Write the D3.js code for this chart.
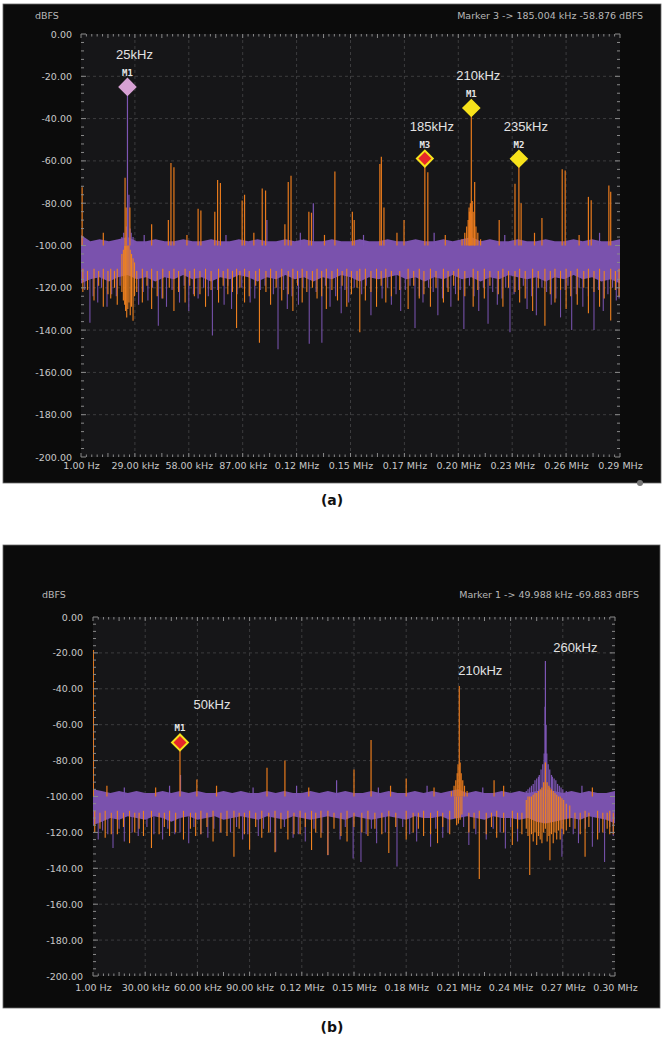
<!DOCTYPE html>
<html>
<head>
<meta charset="utf-8">
<script src="https://cdn.jsdelivr.net/npm/d3@7"></script>
<style>
  body { margin: 0; background: #fff; }
  svg { display: block; }
</style>
</head>
<body>
<svg id="chart" width="664" height="1040"></svg>
<script>
// ---- data ----
var dbTicks = [0, -20, -40, -60, -80, -100, -120, -140, -160, -180, -200];

// panel (a)
var aTicksKHz = [0, 29, 58, 87, 116, 145, 174, 203, 232, 261, 290];
var aTickLabels = ["1.00 Hz", "29.00 kHz", "58.00 kHz", "87.00 kHz", "0.12 MHz", "0.15 MHz",
                   "0.17 MHz", "0.20 MHz", "0.23 MHz", "0.26 MHz", "0.29 MHz"];
// noise band edges, one value every 5 kHz from 0 to 290 kHz
var aBandTop = [-95,-98,-97,-98,-97,-96,-98,-98,-97,-98,
                -98,-97,-98,-98,-97,-98,-98,-97,-98,-97,
                -98,-98,-97,-98,-97,-98,-98,-97,-98,-98,
                -97,-98,-98,-97,-98,-98,-97,-98,-98,-97,
                -98,-97,-96,-98,-97,-98,-98,-97,-98,-98,
                -97,-98,-98,-97,-98,-97,-98,-98,-97];
var aBandBot = [-118,-116,-115,-117,-115,-114,-116,-115,-117,-115,
                -116,-114,-116,-115,-117,-115,-116,-114,-115,-117,
                -115,-116,-114,-116,-115,-117,-115,-116,-114,-115,
                -117,-115,-116,-115,-114,-116,-115,-117,-115,-116,
                -114,-116,-115,-117,-115,-116,-114,-115,-116,-115,
                -117,-115,-116,-114,-116,-115,-117,-116,-118];
// [kHz, from dB, to dB]
var aOrangeTones = [[0.6,-100,-72.5],[23.7,-100,-68],[24.3,-100,-82],[26.3,-100,-82],[38,-100,-90],
  [47,-100,-88],[48.4,-100,-61],[50,-100,-63],[63,-100,-82.6],[64.5,-100,-83.5],[72,-100,-84],
  [73.5,-100,-69],[75,-100,-70.5],[86.7,-100,-78.7],[88,-100,-76],[97.5,-100,-73],[99.3,-100,-74],
  [109.7,-100,-90],[111.5,-100,-70],[113,-100,-67],[122.6,-100,-84],[124,-100,-84.5],[136.6,-100,-65],
  [146,-100,-84],[147,-100,-88],[160.8,-100,-61.5],[161.6,-100,-58],[163,-100,-82],[173.8,-100,-88],
  [185,-100,-58.9],[186.6,-100,-65.4],[208.8,-100,-82],[210,-100,-35],[211.8,-100,-70],[225,-100,-88],
  [233.5,-100,-70.8],[235.6,-100,-59],[236.8,-100,-80],[248,-100,-87],[258.9,-100,-64],[260.5,-100,-64.5],
  [273,-100,-77],[274.5,-100,-78.6],[284,-100,-71.6],[285,-100,-74.6],
  [205,-100,-97],[206.5,-100,-94],[207.5,-100,-91],[208.3,-100,-88],[209,-100,-84],[209.5,-100,-80],
  [210.5,-100,-79],[211,-100,-84],[211.7,-100,-88],[212.5,-100,-91],[213.5,-100,-94],[215,-100,-97],
  [12,-100,-94],[57,-100,-95],[93,-100,-94],[131,-100,-95],[170,-100,-94],[196,-100,-95],[244,-100,-94],[268,-100,-95]];
var aOrangeDown = [[22,-104,-122],[22.8,-102,-126],[23.5,-100,-128],[24,-100,-131],[24.6,-100,-134],
  [25.2,-100,-130],[25.8,-100,-127],[26.5,-102,-133],[27.2,-104,-129],[28,-106,-135.6],[28.8,-108,-124],
  [1,-111,-122],[7,-111,-126],[12,-111,-129],[16,-111,-125],[19.5,-111,-128],[33,-111,-127],[38,-111,-130],
  [44,-111,-125],[50,-111,-131],[56,-111,-127],[61,-111,-124],[67,-111,-129],[74,-111,-127],[79,-111,-123],
  [83.7,-111,-139],[88,-111,-127],[96,-111,-146],[102,-111,-128],[108,-111,-126],[114,-111,-131],
  [119,-111,-127],[127,-111,-125],[132,-111,-130],[138,-111,-126],[143,-111,-129],[150,-111,-141],
  [153,-111,-126],[159,-111,-129],[164,-111,-127],[176,-111,-130],[182,-111,-125],[188,-111,-129],
  [195,-111,-127],[203,-111,-126],[211,-111,-129],[217,-111,-125],[227,-111,-129],[236,-111,-127],
  [243,-111,-131],[249.6,-111,-138],[255,-111,-127],[261,-111,-130],[267,-111,-128],[273,-111,-132],
  [279,-111,-129],[285,-111,-135.5],[289.5,-111,-124],
  [3.5,-112,-121],[9.5,-112,-119],[14.5,-112,-123],[18,-112,-120],[30,-112,-122],[35.5,-112,-119],
  [41,-112,-124],[47.5,-112,-120],[52.5,-112,-122],[58.5,-112,-119],[64,-112,-123],[70,-112,-121],
  [76.5,-112,-119],[81.5,-112,-122],[85.5,-112,-120],[90.5,-112,-124],[94,-112,-119],[99.5,-112,-122],
  [105,-112,-120],[111.5,-112,-123],[116.5,-112,-119],[121.5,-112,-122],[124.5,-112,-120],[129.5,-112,-124],
  [135,-112,-121],[140.5,-112,-119],[145.5,-112,-123],[148.5,-112,-120],[156,-112,-122],[161.5,-112,-119],
  [167,-112,-124],[171.5,-112,-121],[179,-112,-119],[184.5,-112,-123],[191,-112,-120],[197.5,-112,-122],
  [200.5,-112,-119],[206.5,-112,-124],[213.5,-112,-121],[220,-112,-119],[224.5,-112,-123],[230,-112,-120],
  [233.5,-112,-122],[239,-112,-125],[246,-112,-120],[252.5,-112,-123],[258,-112,-121],[263.5,-112,-124],
  [270.5,-112,-120],[276,-112,-122],[281.5,-112,-125],[287.5,-112,-121]];
var aPurpleTones = [[25,-100,-25],[25.8,-100,-76],[24.4,-100,-91],[26.4,-100,-92],[23,-100,-94],
  [27,-100,-94],[22,-100,-96],[28,-100,-96],[100,-100,-88],[125,-100,-80],[210,-100,-85],
  [34,-100,-95],[78,-100,-95],[118,-100,-94],[152,-100,-95],[190,-100,-94],[228,-100,-95],[279,-100,-94]];
var aPurpleDown = [[4.8,-112,-136.5],[9,-112,-127],[14,-112,-129],[19,-112,-124],[31,-112,-128],
  [36,-112,-126],[41.6,-112,-138],[46,-112,-129],[53,-112,-127],[58,-112,-131],[63,-112,-125],
  [70.7,-112,-142.6],[77,-112,-128],[81,-112,-130],[91,-112,-127],[106,-112,-149],[111,-112,-130],
  [117,-112,-128],[122.8,-112,-146.5],[129.6,-112,-146],[134,-112,-129],[140,-112,-132],[144,-112,-127],
  [156,-112,-133],[167,-112,-128],[172,-112,-131],[179.7,-112,-139],[184,-112,-127],[192,-112,-133],
  [199,-112,-129],[206,-112,-139.5],[214,-112,-131],[219,-112,-137],[224,-112,-128],[230.8,-112,-141],
  [240,-112,-130],[245,-112,-133],[253,-112,-128],[258,-112,-134],[264,-112,-140],[270,-112,-129],
  [276,-112,-140],[281,-112,-131],[288,-112,-126],
  [2,-112,-121],[6.5,-112,-124],[11,-112,-120],[16.5,-112,-123],[21,-112,-119],[33.5,-112,-122],
  [38.5,-112,-120],[43.5,-112,-125],[49,-112,-121],[55.5,-112,-119],[60.5,-112,-123],[66,-112,-120],
  [68.5,-112,-124],[73.5,-112,-121],[79,-112,-119],[84,-112,-123],[86.5,-112,-120],[93.5,-112,-125],
  [96.5,-112,-121],[99,-112,-119],[103.5,-112,-123],[109,-112,-121],[113.5,-112,-124],[119.5,-112,-120],
  [126.5,-112,-122],[131.5,-112,-119],[137,-112,-124],[142,-112,-121],[147,-112,-120],[151,-112,-123],
  [153.5,-112,-119],[159,-112,-122],[162,-112,-125],[165,-112,-120],[169.5,-112,-123],[174.5,-112,-121],
  [177,-112,-119],[182,-112,-124],[187,-112,-120],[189.5,-112,-122],[194.5,-112,-125],[197,-112,-120],
  [201.5,-112,-123],[204,-112,-121],[209,-112,-119],[211.5,-112,-124],[216.5,-112,-120],[221.5,-112,-122],
  [226.5,-112,-125],[228.5,-112,-120],[233,-112,-123],[235.5,-112,-121],[238,-112,-119],[242.5,-112,-124],
  [248,-112,-120],[250.5,-112,-122],[255.5,-112,-125],[260.5,-112,-121],[262,-112,-119],[266.5,-112,-123],
  [268,-112,-120],[273,-112,-124],[278.5,-112,-121],[283.5,-112,-123],[286,-112,-120],[289.5,-112,-125]];
var aMarkers = [
  {name: "M1", kHz: 25, db: -25, label: "25kHz", fill: "#d7a1d4", stroke: "#d7a1d4"},
  {name: "M1", kHz: 210, db: -35, label: "210kHz", fill: "#f7e21b", stroke: "#f7e21b"},
  {name: "M3", kHz: 185, db: -58.9, label: "185kHz", fill: "#e8262b", stroke: "#f7e21b"},
  {name: "M2", kHz: 235.6, db: -59, label: "235kHz", fill: "#f7e21b", stroke: "#f7e21b"}];
var aReadout = "Marker 3 -> 185.004 kHz -58.876 dBFS";

// panel (b)
var bTicksKHz = [0, 30, 60, 90, 120, 150, 180, 210, 240, 270, 300];
var bTickLabels = ["1.00 Hz", "30.00 kHz", "60.00 kHz", "90.00 kHz", "0.12 MHz", "0.15 MHz",
                   "0.18 MHz", "0.21 MHz", "0.24 MHz", "0.27 MHz", "0.30 MHz"];
// one value every 5 kHz from 0 to 300 kHz
var bBandTop = [-96,-97,-98,-97,-98,-97,-98,-98,-97,-98,
                -97,-98,-97,-98,-98,-97,-98,-97,-98,-98,
                -97,-98,-97,-98,-98,-97,-98,-97,-98,-97,
                -98,-98,-97,-98,-97,-98,-98,-97,-98,-97,
                -98,-97,-96,-98,-97,-98,-98,-97,-98,-97,
                -98,-97,-96,-97,-98,-97,-98,-97,-98,-98,-97];
var bBandBot = [-116,-114,-112,-113,-111,-112,-113,-111,-112,-114,
                -112,-111,-113,-112,-111,-113,-112,-111,-112,-113,
                -111,-112,-113,-111,-112,-113,-112,-111,-112,-113,
                -111,-112,-113,-112,-111,-112,-113,-111,-112,-112,
                -111,-113,-112,-111,-112,-113,-111,-112,-112,-113,
                -112,-114,-115,-114,-113,-112,-113,-111,-112,-113,-115];
var bOrangeTones = [[0.2,-100,-18.4],[49.988,-100,-69.9],[59.7,-100,-90.5],[100,-100,-84],[110.3,-100,-80],
  [150,-100,-85],[159.8,-100,-68.5],[180,-100,-90],[210.5,-100,-38.5],[230.5,-100,-91],[260,-96,-81],
  [206,-100,-97],[207.5,-100,-94],[208.5,-100,-91],[209.3,-100,-87],[209.8,-100,-82],[211,-100,-81],
  [211.6,-100,-87],[212.5,-100,-91],[213.5,-100,-94],[215,-100,-97],
  [8,-100,-94],[36,-100,-95],[71,-100,-94],[124,-100,-95],[171,-100,-94],[196,-100,-95],[236,-100,-94],[287,-100,-95]];
var bOrangeDown = [[249,-102,-118],[250,-100,-122],[251,-100,-143.7],[252,-100,-121],[253,-99,-125],
  [254,-98,-120],[255,-98,-127],[256,-97,-122],[257,-96,-124],[258,-95,-126],[259,-92,-120],[260,-92,-118],
  [261,-92,-125],[262,-94,-122],[262.6,-95,-135.5],[263.5,-96,-121],[264.5,-97,-126],[265.5,-98,-120],
  [266.5,-99,-124],[267.5,-100,-119],[268.5,-100,-124],[269.5,-101,-118],[270.5,-102,-121],[272,-104,-119],
  [274,-105,-117],[208,-100,-112],[209,-100,-116],[210,-100,-115],[211,-100,-113],[212,-100,-110],
  [1,-108,-120],[7,-108,-123],[14,-108,-121],[21,-108,-126],[29,-108,-122],[33.6,-108,-128.7],
  [44,-108,-122],[52,-108,-124],[62,-108,-121],[69,-108,-125],[77,-108,-122],[81,-108,-133.6],
  [90,-108,-129.6],[97,-108,-123],[104.6,-108,-131],[112,-108,-124],[119,-108,-121],[125.6,-108,-129.8],
  [131,-108,-123],[135,-108,-132.6],[146,-108,-125],[158,-108,-122],[170,-108,-131.5],[180,-108,-124],
  [190,-108,-122],[198,-108,-126],[205,-108,-121],[222,-108,-146],[232,-108,-123],[241,-108,-127],
  [282.8,-108,-133.6],[290,-108,-124],[297,-108,-121],
  [4,-109,-118],[10.5,-109,-121],[17.5,-109,-117],[24,-109,-120],[26.5,-109,-118],[38,-109,-121],
  [41,-109,-117],[47.5,-109,-120],[56,-109,-118],[59,-109,-122],[65.5,-109,-117],[73.5,-109,-120],
  [84,-109,-118],[87,-109,-121],[93.5,-109,-117],[101,-109,-120],[108,-109,-118],[115.5,-109,-121],
  [122,-109,-117],[128,-109,-120],[138.5,-109,-118],[142.5,-109,-122],[150,-109,-117],[154.5,-109,-120],
  [162,-109,-118],[166,-109,-121],[174,-109,-117],[184,-109,-120],[187,-109,-118],[194,-109,-121],
  [201,-109,-117],[216,-109,-120],[219,-109,-118],[226,-109,-121],[229,-109,-117],[236,-109,-120],
  [244,-109,-118],[246.5,-109,-121],[277,-109,-118],[280,-109,-121],[285,-109,-117],[293,-109,-120],
  [295.5,-109,-118],[299,-109,-121]];
var bPurpleTones = [[0.2,-100,-53.5],[50.3,-100,-88],[140,-100,-91],
  [249,-100,-97],[251,-100,-95],[253,-100,-93],[255,-100,-90],[256.5,-100,-88],[257.5,-100,-85],
  [258.5,-100,-82],[259.3,-100,-76],[259.8,-100,-50],[260,-100,-24.5],[260.4,-100,-60],[260.8,-100,-76],
  [261.6,-100,-82],[262.5,-100,-85],[263.5,-100,-88],[265,-100,-90],[267,-100,-93],[269,-100,-95],
  [272,-100,-97],[250,-100,-96],[252,-100,-94],[254,-100,-91],[256,-100,-89],[264,-100,-89],[266,-100,-91],
  [268,-100,-94],[270,-100,-96],
  [18,-100,-95],[44,-100,-94],[92,-100,-95],[117,-100,-94],[164,-100,-95],[192,-100,-94],[224,-100,-95],[281,-100,-94]];
var bPurpleDown = [[3,-111,-124],[11.5,-111,-128.7],[18,-111,-125],[26,-111,-122],[40,-111,-124],
  [47,-111,-121],[55,-111,-126],[66,-111,-123],[73,-111,-120],[86,-111,-124],[95,-111,-122],
  [105,-111,-130.8],[115,-111,-123],[122,-111,-125],[135,-111,-132.7],[142,-111,-124],[149.5,-111,-134.5],
  [154,-111,-136.5],[163,-111,-126],[174.7,-111,-139],[186,-111,-125],[194,-111,-128],[201,-111,-123],
  [216,-111,-127],[226,-111,-124],[237,-111,-129],[244,-111,-125],[269.5,-111,-133.6],[279,-111,-126],
  [287,-111,-128],[294,-111,-136.5],[299,-111,-122],
  [5.5,-111,-119],[8.5,-111,-121],[15,-111,-118],[22.5,-111,-120],[31,-111,-117],[35,-111,-121],
  [43,-111,-118],[50,-111,-120],[58,-111,-117],[62,-111,-121],[69.5,-111,-118],[79,-111,-120],
  [82.5,-111,-117],[89,-111,-121],[98,-111,-118],[102,-111,-120],[110,-111,-117],[118,-111,-121],
  [127,-111,-118],[131.5,-111,-120],[145,-111,-117],[157,-111,-121],[160,-111,-118],[168,-111,-120],
  [178,-111,-117],[182,-111,-121],[197,-111,-118],[204,-111,-120],[213,-111,-117],[220,-111,-121],
  [230,-111,-118],[234,-111,-120],[240,-111,-117],[276,-111,-121],[283,-111,-118],[291,-111,-120],
  [297,-111,-117]];
var bMarkers = [
  {name: "M1", kHz: 49.988, db: -69.883, label: "50kHz", fill: "#e8262b", stroke: "#f7e21b"}];
var bPeakLabels = [{kHz: 210.5, db: -38.5, label: "210kHz"}, {kHz: 260, db: -24.5, label: "260kHz"}];
var bReadout = "Marker 1 -> 49.988 kHz -69.883 dBFS";

// ---- drawing ----
var ORANGE = "#f0821f", PURPLE = "#7d55b3", BAND = "#7a52ad";
var svg = d3.select("#chart");
svg.append("rect").attr("width", 664).attr("height", 1040).attr("fill", "#fff");

function drawPanel(cfg) {
  var g = svg.append("g");
  g.append("rect").attr("x", cfg.box[0]).attr("y", cfg.box[1])
    .attr("width", cfg.box[2] - cfg.box[0]).attr("height", cfg.box[3] - cfg.box[1])
    .attr("fill", "#0b0b0b").attr("stroke", "#6a6a6a").attr("stroke-width", 0.8);

  var x = d3.scaleLinear().domain([0, cfg.maxKHz]).range([cfg.left, cfg.right]);
  var y = d3.scaleLinear().domain([0, -200]).range([cfg.top, cfg.bottom]);

  g.append("rect").attr("x", cfg.left).attr("y", cfg.top)
    .attr("width", cfg.right - cfg.left).attr("height", cfg.bottom - cfg.top).attr("fill", "#161618");

  // grid
  g.selectAll("line.vg").data(cfg.ticks.slice(1, -1)).join("line").attr("class", "vg")
    .attr("x1", d => x(d)).attr("x2", d => x(d)).attr("y1", cfg.top).attr("y2", cfg.bottom)
    .attr("stroke", "#3c3c3e").attr("stroke-dasharray", "3,3");
  g.selectAll("line.hg").data(dbTicks.slice(1, -1)).join("line").attr("class", "hg")
    .attr("x1", cfg.left).attr("x2", cfg.right).attr("y1", d => y(d)).attr("y2", d => y(d))
    .attr("stroke", "#3c3c3e").attr("stroke-dasharray", "3,3");

  var clipId = "clip" + cfg.id;
  g.append("clipPath").attr("id", clipId).append("rect")
    .attr("x", cfg.left).attr("y", cfg.top).attr("width", cfg.right - cfg.left).attr("height", cfg.bottom - cfg.top);
  var plot = g.append("g").attr("clip-path", "url(#" + clipId + ")");

  var freqs = cfg.bandTop.map((d, i) => i * 5);
  var band = d3.area().x((d, i) => x(freqs[i])).y0((d, i) => y(cfg.bandBot[i])).y1(d => y(d));

  function segs(data, color, w) {
    plot.append("g").selectAll("line").data(data).join("line")
      .attr("x1", d => x(d[0])).attr("x2", d => x(d[0]))
      .attr("y1", d => y(d[1])).attr("y2", d => y(d[2]))
      .attr("stroke", color).attr("stroke-width", w);
  }
  segs(cfg.purpleDown, "#7450a8", 1.1);
  plot.append("path").datum(cfg.bandTop).attr("d", band).attr("fill", BAND);
  segs(cfg.purpleTones, PURPLE, 1.2);
  segs(cfg.orangeDown, ORANGE, 1.1);
  segs(cfg.orangeTones, "#e87a1c", 1.2);

  // minor ticks around the frame
  var step = cfg.maxKHz / 100;
  var xm = d3.range(0, 101).map(i => i * step);
  g.append("g").selectAll("line").data(xm).join("line")
    .attr("x1", d => x(d)).attr("x2", d => x(d))
    .attr("y1", cfg.top).attr("y2", (d, i) => cfg.top + (i % 5 === 0 ? 4 : 2.5))
    .attr("stroke", "#8a8a8a");
  g.append("g").selectAll("line").data(xm).join("line")
    .attr("x1", d => x(d)).attr("x2", d => x(d))
    .attr("y1", cfg.bottom).attr("y2", (d, i) => cfg.bottom - (i % 5 === 0 ? 4 : 2.5))
    .attr("stroke", "#8a8a8a");
  var ym = d3.range(0, 51).map(i => -4 * i);
  [cfg.left, cfg.right].forEach(function(edge, k) {
    var dir = k === 0 ? 1 : -1;
    g.append("g").selectAll("line").data(ym).join("line")
      .attr("x1", edge).attr("x2", (d, i) => edge + dir * (i % 5 === 0 ? 5 : 3))
      .attr("y1", d => y(d)).attr("y2", d => y(d)).attr("stroke", "#8a8a8a");
  });

  // axes labels
  var yAxis = d3.axisLeft(y).tickValues(dbTicks).tickFormat(d => d.toFixed(2)).tickSize(0).tickPadding(cfg.yPad);
  var ya = g.append("g").attr("transform", "translate(" + cfg.left + ",0)").call(yAxis);
  var xAxis = d3.axisBottom(x).tickValues(cfg.ticks).tickFormat((d, i) => cfg.labels[i]).tickSize(0).tickPadding(cfg.xPad);
  var xa = g.append("g").attr("transform", "translate(0," + cfg.bottom + ")").call(xAxis);
  [ya, xa].forEach(function(a) {
    a.select(".domain").remove();
    a.selectAll("text").attr("fill", "#c8c8c8").style("font-family", "DejaVu Sans").style("font-size", "9.5px");
  });

  g.append("text").attr("x", cfg.unitX).attr("y", cfg.headY).text("dBFS")
    .attr("fill", "#b8b8b8").style("font-family", "DejaVu Sans").style("font-size", "9.5px");
  g.append("text").attr("x", cfg.readX).attr("y", cfg.headY).attr("text-anchor", "end").text(cfg.readout)
    .attr("fill", "#b8b8b8").style("font-family", "DejaVu Sans").style("font-size", "9.5px");

  // markers
  var diamond = d3.symbol(d3.symbolSquare, 125)();
  var mk = g.selectAll("g.mk").data(cfg.markers).join("g").attr("class", "mk")
    .attr("transform", d => "translate(" + x(d.kHz) + "," + y(d.db) + ")");
  mk.append("path").attr("d", diamond).attr("transform", "rotate(45)")
    .attr("fill", d => d.fill).attr("stroke", d => d.stroke).attr("stroke-width", 2);
  mk.append("text").attr("y", -11).attr("text-anchor", "middle").text(d => d.name)
    .attr("fill", "#e6e6e6").style("font-family", "DejaVu Sans Mono").style("font-weight", "bold").style("font-size", "9px");
  mk.append("text").attr("x", cfg.lblDx).attr("y", cfg.lblDy).attr("text-anchor", "middle").text(d => d.label)
    .attr("fill", "#e2e2e2").style("font-family", "Liberation Sans").style("font-size", "13px");

  g.selectAll("text.pk").data(cfg.peaks || []).join("text").attr("class", "pk")
    .attr("x", d => x(d.kHz) + (d.kHz > 250 ? 30 : 21)).attr("y", d => y(d.db) - (d.kHz > 250 ? 9 : 11))
    .attr("text-anchor", "middle").text(d => d.label)
    .attr("fill", "#e2e2e2").style("font-family", "Liberation Sans").style("font-size", "13px");

  svg.append("text").attr("x", 332).attr("y", cfg.capY).attr("text-anchor", "middle").text(cfg.caption)
    .attr("fill", "#111").style("font-family", "DejaVu Sans").style("font-weight", "bold").style("font-size", "14px");
}

drawPanel({
  id: "a", box: [3, 4, 661, 483], left: 81, right: 620, top: 34, bottom: 457, maxKHz: 290,
  ticks: aTicksKHz, labels: aTickLabels, bandTop: aBandTop, bandBot: aBandBot,
  orangeTones: aOrangeTones, orangeDown: aOrangeDown, purpleTones: aPurpleTones, purpleDown: aPurpleDown,
  markers: aMarkers, readout: aReadout, unitX: 35, readX: 643, headY: 19, yPad: 9, xPad: 5,
  lblDx: 7, lblDy: -28, caption: "(a)", capY: 505
});
drawPanel({
  id: "b", box: [3, 545, 660, 1008], left: 93, right: 615, top: 617, bottom: 976, maxKHz: 300,
  ticks: bTicksKHz, labels: bTickLabels, bandTop: bBandTop, bandBot: bBandBot,
  orangeTones: bOrangeTones, orangeDown: bOrangeDown, purpleTones: bPurpleTones, purpleDown: bPurpleDown,
  markers: bMarkers, peaks: bPeakLabels, readout: bReadout, unitX: 42, readX: 639, headY: 598, yPad: 10, xPad: 8,
  lblDx: 32, lblDy: -33, caption: "(b)", capY: 1032
});
svg.append("circle").attr("cx", 640).attr("cy", 483).attr("r", 3).attr("fill", "#777");
</script>
</body>
</html>
